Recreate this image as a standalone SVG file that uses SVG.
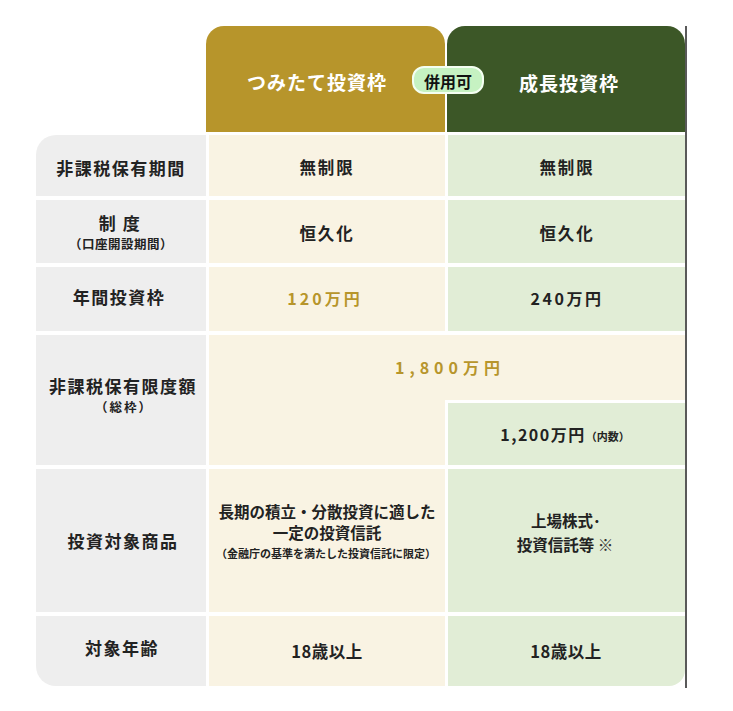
<svg xmlns="http://www.w3.org/2000/svg" width="733" height="711" viewBox="0 0 733 711">
<style>
text{font-family:"Noto Sans CJK JP","Noto Sans",sans-serif;font-weight:700;fill:#222;text-anchor:middle}
.hd{font-size:19px;fill:#fff;letter-spacing:1px}
.lb{font-size:17px;letter-spacing:1.5px}
.sm{font-size:12.5px;letter-spacing:0.5px}
.v{font-size:16.5px;letter-spacing:1.8px}
.gold{fill:#b7952b}
.gray{fill:#eeeeee}
.cg{fill:#f9f3e3}
.cn{fill:#e1edd6}
</style>
<rect width="733" height="711" fill="#fff"/>
<g id="header-tsumitate">
<path d="M206,132 V44 A18,18 0 0 1 224,26 H427 A18,18 0 0 1 445,44 V132 Z" fill="#b7952b"/>
<text class="hd" x="317" y="90">つみたて投資枠</text>
</g>
<g id="header-seicho">
<path d="M447,132 V44 A18,18 0 0 1 465,26 H667 A18,18 0 0 1 685,44 V132 Z" fill="#3c5727"/>
<text class="hd" x="569" y="91">成長投資枠</text>
</g>
<g id="badge">
<rect x="413" y="67" width="70" height="26" rx="11" fill="#c6f2c2" stroke="#f4fff2" stroke-width="2"/>
<text x="448" y="87.5" style="font-size:16px;fill:#111">併用可</text>
</g>
<g id="row-period">
<path class="gray" d="M36,196 V155 A20,20 0 0 1 56,135 H206 V196 Z"/>
<rect class="cg" x="209" y="135" width="236" height="61"/>
<rect class="cn" x="448" y="135" width="237" height="61"/>
<text class="lb" x="121" y="174.5">非課税保有期間</text>
<text class="v" x="327" y="174">無制限</text>
<text class="v" x="567" y="174">無制限</text>
</g>
<g id="row-system">
<rect class="gray" x="36" y="200" width="170" height="63"/>
<rect class="cg" x="209" y="200" width="236" height="63"/>
<rect class="cn" x="448" y="200" width="237" height="63"/>
<text class="lb" x="120" y="229.5" xml:space="preserve">制 度</text>
<text class="sm" x="121" y="249">（口座開設期間）</text>
<text class="v" x="327" y="240">恒久化</text>
<text class="v" x="567" y="240">恒久化</text>
</g>
<g id="row-annual">
<rect class="gray" x="36" y="267" width="170" height="64"/>
<rect class="cg" x="209" y="267" width="236" height="64"/>
<rect class="cn" x="448" y="267" width="237" height="64"/>
<text class="lb" x="119" y="304">年間投資枠</text>
<text x="325" y="305" style="font-size:16px;letter-spacing:3px;fill:#b7952b">120万円</text>
<text x="567" y="305" style="font-size:16px;letter-spacing:2.5px">240万円</text>
</g>
<g id="row-limit">
<rect class="gray" x="36" y="335" width="170" height="130"/>
<path class="cg" d="M209,335 H685 V400 H445 V465 H209 Z"/>
<rect class="cn" x="448" y="403" width="237" height="62"/>
<text class="lb" x="123" y="392.5">非課税保有限度額</text>
<text x="124" y="412" style="font-size:12.5px;letter-spacing:2px">（総枠）</text>
<text x="450" y="373.5" style="font-size:16px;letter-spacing:5px;fill:#b7952b">1,800万円</text>
<text x="565" y="441" style="font-size:16px;letter-spacing:1.5px">1,200万円<tspan style="font-size:11px;letter-spacing:0">（内数）</tspan></text>
</g>
<g id="row-products">
<rect class="gray" x="36" y="469" width="170" height="143"/>
<rect class="cg" x="209" y="469" width="236" height="143"/>
<rect class="cn" x="448" y="469" width="237" height="143"/>
<text class="lb" x="123" y="547.5">投資対象商品</text>
<text x="327" y="518" style="font-size:15.5px">長期の積立・分散投資に適した</text>
<text x="327" y="538.5" style="font-size:15.5px">一定の投資信託</text>
<text x="326" y="558" style="font-size:11px">（金融庁の基準を満たした投資信託に限定）</text>
<text x="566" y="526.5" style="font-size:15.5px">上場株式･</text>
<text x="565" y="551" style="font-size:15.5px" xml:space="preserve">投資信託等 <tspan style="font-weight:400;fill:#333">※</tspan></text>
</g>
<g id="row-age">
<path class="gray" d="M36,616 H206 V686 H56 A20,20 0 0 1 36,666 Z"/>
<rect class="cg" x="209" y="616" width="236" height="70"/>
<path class="cn" d="M448,616 H685 V670 A16,16 0 0 1 669,686 H448 Z"/>
<text class="lb" x="122" y="655">対象年齢</text>
<text class="v" x="327" y="657.5" style="letter-spacing:0.5px">18歳以上</text>
<text class="v" x="566" y="657.5" style="letter-spacing:0.5px">18歳以上</text>
</g>
<g id="connectors"></g>
<line x1="686" y1="26" x2="686" y2="688" stroke="#222" stroke-width="1.5"/>
</svg>
